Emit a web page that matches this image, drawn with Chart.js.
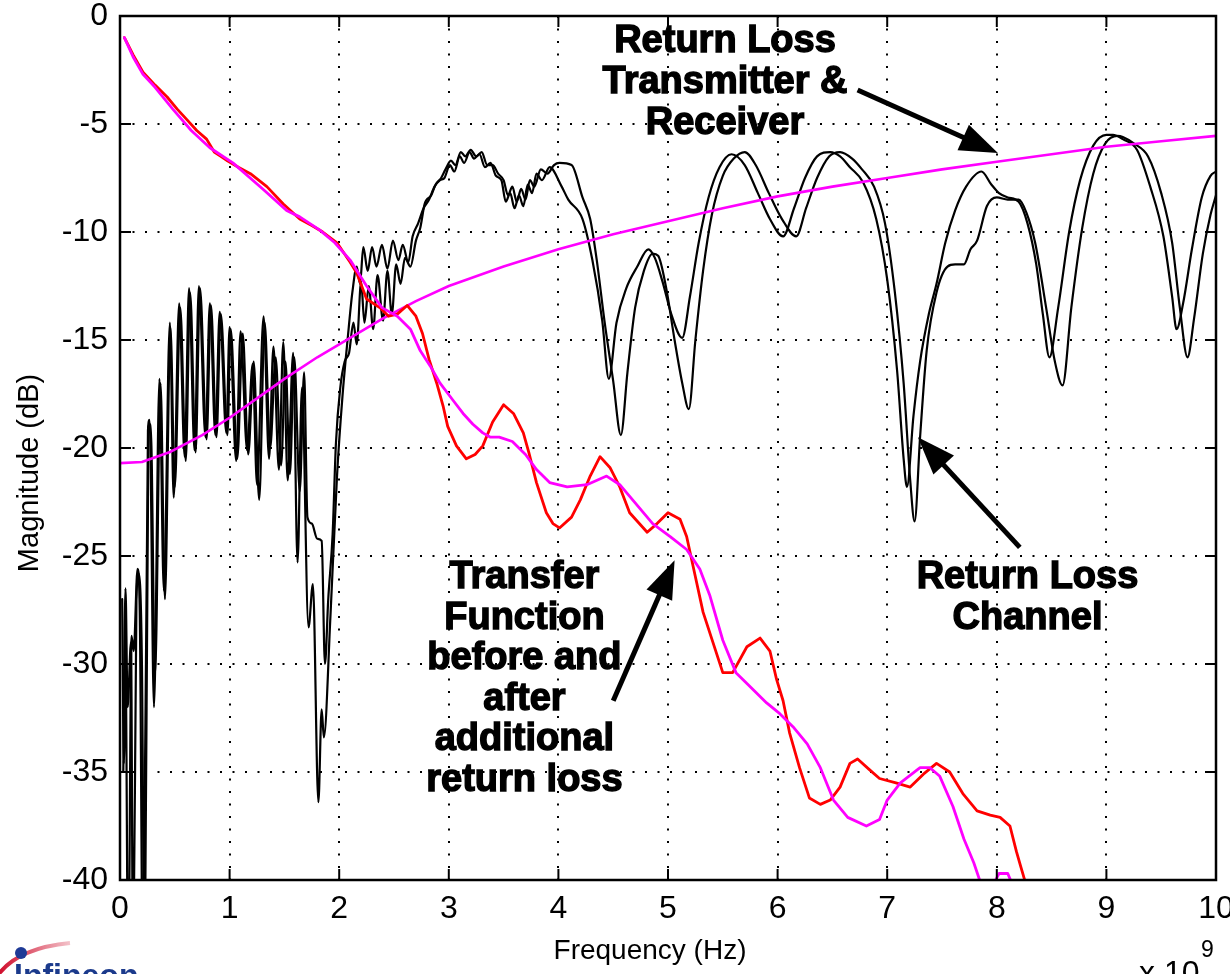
<!DOCTYPE html>
<html>
<head>
<meta charset="utf-8">
<script src="https://cdn.jsdelivr.net/npm/chart.js@4.4.1/dist/chart.umd.min.js"></script>
<style>
  html, body { margin: 0; padding: 0; background: #fff; overflow: hidden; }
  canvas { display: block; }
</style>
</head>
<body>
<canvas id="c" width="1230" height="974"></canvas>
<script>
// Axis ticks (frequency in GHz, shown with the x 10^9 multiplier; magnitude in dB)
const xTickValues = [0, 1, 2, 3, 4, 5, 6, 7, 8, 9, 10];
const yTickValues = [0, -5, -10, -15, -20, -25, -30, -35, -40];

// Transfer function before additional return loss [GHz, dB]
const tfBefore = [
  [0.04,-1.0],[0.12,-1.8],[0.21,-2.6],[0.32,-3.2],[0.43,-3.75],[0.52,-4.3],[0.61,-4.8],[0.70,-5.3],[0.79,-5.7],[0.86,-6.3],
  [0.92,-6.5],[0.98,-6.7],[1.08,-7.0],[1.19,-7.3],[1.34,-7.9],[1.49,-8.7],[1.64,-9.4],[1.75,-9.7],[1.85,-10.0],[1.98,-10.5],
  [2.10,-11.4],[2.16,-11.9],[2.25,-13.1],[2.37,-13.5],[2.45,-13.9],[2.53,-13.8],[2.62,-13.4],[2.70,-13.9],[2.76,-14.7],[2.82,-15.9],
  [2.89,-17.0],[2.95,-18.1],[2.99,-19.0],[3.07,-19.9],[3.16,-20.5],[3.24,-20.3],[3.31,-19.9],[3.40,-18.8],[3.50,-18.0],[3.59,-18.4],
  [3.68,-19.3],[3.73,-20.2],[3.80,-21.6],[3.89,-23.0],[3.95,-23.5],[4.01,-23.7],[4.12,-23.2],[4.20,-22.4],[4.29,-21.3],[4.38,-20.4],
  [4.47,-20.9],[4.56,-21.8],[4.65,-23.0],[4.81,-23.9],[4.90,-23.5],[5.00,-23.0],[5.11,-23.3],[5.17,-24.1],[5.23,-25.5],[5.32,-27.6],
  [5.41,-29.0],[5.50,-30.4],[5.59,-30.4],[5.72,-29.2],[5.84,-28.8],[5.93,-29.4],[5.99,-30.7],[6.05,-31.7],[6.11,-33.2],[6.20,-34.8],
  [6.29,-36.2],[6.39,-36.5],[6.48,-36.3],[6.57,-35.7],[6.66,-34.6],[6.73,-34.4],[6.84,-34.9],[6.93,-35.3],[7.08,-35.5],[7.21,-35.7],
  [7.33,-35.1],[7.45,-34.6],[7.57,-35.0],[7.69,-36.0],[7.82,-36.8],[7.94,-37.0],[8.03,-37.1],[8.12,-37.5],[8.18,-38.7],[8.22,-39.4],
  [8.26,-40.1],[8.30,-41.0]
];

// Transfer function after additional return loss [GHz, dB]
const tfAfter = [
  [0.04,-1.0],[0.12,-1.9],[0.21,-2.7],[0.32,-3.3],[0.48,-4.3],[0.65,-5.3],[0.82,-6.1],[1.03,-6.8],[1.30,-8.0],[1.52,-9.0],
  [1.64,-9.3],[1.82,-9.9],[1.96,-10.5],[2.10,-11.3],[2.25,-12.5],[2.39,-13.5],[2.53,-13.9],[2.65,-14.5],[2.74,-15.5],[2.83,-16.2],
  [2.92,-17.0],[3.04,-17.8],[3.13,-18.4],[3.22,-18.9],[3.31,-19.3],[3.38,-19.5],[3.46,-19.5],[3.58,-19.7],[3.70,-20.3],[3.80,-21.0],
  [3.92,-21.6],[4.08,-21.8],[4.26,-21.7],[4.44,-21.3],[4.56,-21.7],[4.71,-22.6],[4.86,-23.5],[5.02,-24.1],[5.17,-24.7],[5.29,-25.6],
  [5.38,-26.8],[5.50,-28.9],[5.62,-30.4],[5.72,-30.9],[5.90,-31.8],[6.02,-32.3],[6.14,-32.9],[6.27,-33.7],[6.39,-34.8],[6.51,-36.3],
  [6.64,-37.1],[6.81,-37.5],[6.93,-37.2],[7.00,-36.3],[7.12,-35.5],[7.30,-34.8],[7.39,-34.8],[7.48,-35.2],[7.60,-36.6],[7.70,-38.1],
  [7.79,-39.2],[7.85,-40.1],[7.90,-40.8],[7.97,-40.2],[8.02,-39.7],[8.10,-39.7],[8.15,-40.3],[8.25,-41.5]
];

// Return loss of transmitter & receiver [GHz, dB]
const rlTxRx = [
  [0.00,-20.7],[0.20,-20.65],[0.45,-20.2],[0.75,-19.4],[1.00,-18.6],[1.25,-17.7],[1.50,-16.8],[1.80,-15.8],[2.10,-14.9],[2.40,-14.0],
  [2.70,-13.2],[3.00,-12.5],[3.50,-11.6],[4.00,-10.8],[4.50,-10.1],[5.00,-9.5],[5.50,-8.9],[6.00,-8.35],[6.50,-7.9],[7.00,-7.5],
  [7.50,-7.1],[8.00,-6.75],[8.50,-6.4],[9.00,-6.05],[9.50,-5.8],[10.00,-5.55]
];

// Return loss of the channel, first measurement [GHz, dB]
const rlChannelA = [
  [0.02,-27.0],[0.035,-34.6],[0.05,-29.5],[0.075,-45],[0.105,-28.7],[0.125,-29.4],[0.16,-25.6],[0.18,-27.5],[0.21,-45],[0.255,-19.2],
  [0.27,-18.7],[0.31,-32.0],[0.36,-16.8],[0.40,-26.6],[0.455,-14.2],[0.49,-22.3],[0.54,-13.3],[0.59,-20.4],[0.63,-12.6],[0.68,-20.1],
  [0.72,-12.5],[0.78,-19.5],[0.82,-13.3],[0.87,-19.4],[0.91,-13.7],[0.97,-19.3],[1.00,-14.4],[1.06,-20.6],[1.10,-14.6],[1.16,-20.1],
  [1.21,-16.1],[1.25,-21.7],[1.31,-13.9],[1.36,-20.5],[1.40,-15.3],[1.45,-21.0],[1.49,-15.1],[1.53,-21.5],[1.58,-15.6],[1.62,-25.3],
  [1.66,-17.2],[1.72,-28.3],[1.76,-26.3],[1.81,-36.4],[1.84,-32.1],[1.86,-33.4],[1.92,-27.8],[1.98,-21.3],[2.03,-17.6],[2.08,-14.8],
  [2.12,-12.8],[2.16,-11.6],[2.19,-12.4],[2.22,-10.7],[2.26,-11.8],[2.30,-10.7],[2.34,-11.6],[2.39,-10.6],[2.44,-11.7],[2.49,-10.4],
  [2.54,-11.3],[2.58,-10.6],[2.63,-11.4],[2.67,-10.2],[2.72,-9.6],[2.77,-8.9],[2.82,-8.5],[2.87,-7.9],[2.92,-7.6],[2.96,-7.5],
  [3.01,-6.9],[3.05,-7.2],[3.10,-6.5],[3.14,-6.8],[3.19,-6.3],[3.23,-6.6],[3.28,-6.4],[3.33,-7.0],[3.38,-6.8],[3.43,-7.4],
  [3.48,-7.6],[3.52,-8.6],[3.56,-8.2],[3.60,-8.9],[3.64,-8.3],[3.68,-8.8],[3.72,-7.8],[3.76,-8.2],[3.80,-7.3],[3.85,-7.6],
  [3.92,-7.0],[4.03,-7.9],[4.09,-8.5],[4.22,-9.4],[4.31,-11.3],[4.40,-14.1],[4.46,-16.8],[4.53,-14.2],[4.62,-12.6],[4.72,-11.6],
  [4.82,-10.8],[4.88,-11.2],[4.95,-12.3],[5.03,-13.8],[5.13,-14.9],[5.20,-13.0],[5.28,-10.5],[5.37,-8.4],[5.47,-7.0],[5.58,-6.4],
  [5.70,-6.9],[5.82,-8.2],[5.93,-9.4],[6.05,-10.2],[6.15,-8.9],[6.25,-7.5],[6.36,-6.5],[6.48,-6.3],[6.57,-6.5],[6.66,-7.0],
  [6.78,-7.7],[6.90,-9.4],[7.00,-12.2],[7.09,-16.4],[7.15,-20.5],[7.18,-21.8],[7.24,-18.5],[7.30,-16.0],[7.38,-13.8],[7.45,-12.4],
  [7.53,-10.5],[7.62,-9.0],[7.72,-7.9],[7.86,-7.2],[7.95,-7.8],[8.02,-8.2],[8.10,-8.4],[8.20,-8.6],[8.28,-9.6],[8.36,-11.5],
  [8.42,-13.8],[8.48,-15.8],[8.56,-13.5],[8.66,-10.0],[8.76,-7.6],[8.88,-6.0],[9.00,-5.5],[9.06,-5.5],[9.15,-5.7],[9.28,-6.2],
  [9.40,-7.9],[9.52,-10.2],[9.60,-13.0],[9.64,-14.5],[9.70,-13.3],[9.78,-10.8],[9.87,-8.4],[9.95,-7.4],[10.00,-7.2]
];

// Return loss of the channel, second measurement [GHz, dB]
const rlChannelB = [
  [0.03,-35.0],[0.05,-26.5],[0.07,-32.0],[0.10,-29.0],[0.12,-45],[0.15,-27.0],[0.17,-25.8],[0.20,-30.0],[0.225,-45],[0.26,-19.0],
  [0.28,-18.9],[0.32,-30.5],[0.37,-17.0],[0.41,-27.0],[0.46,-14.4],[0.50,-21.8],[0.55,-13.5],[0.60,-20.6],[0.64,-12.8],[0.69,-20.2],
  [0.73,-12.6],[0.79,-19.6],[0.83,-13.4],[0.88,-19.5],[0.92,-13.8],[0.98,-19.4],[1.01,-14.5],[1.07,-20.5],[1.12,-14.7],[1.17,-20.3],
  [1.22,-16.0],[1.27,-22.4],[1.32,-14.2],[1.37,-20.0],[1.42,-15.8],[1.47,-20.8],[1.51,-16.0],[1.55,-21.2],[1.59,-15.8],[1.64,-22.0],
  [1.68,-16.5],[1.71,-23.2],[1.75,-23.5],[1.80,-24.2],[1.84,-24.3],[1.87,-30.0],[1.90,-27.0],[1.94,-24.0],[1.97,-19.8],[2.01,-17.2],
  [2.05,-16.0],[2.09,-15.6],[2.13,-14.2],[2.16,-15.2],[2.20,-12.3],[2.23,-14.2],[2.27,-12.5],[2.31,-14.5],[2.35,-12.0],[2.40,-14.1],
  [2.44,-11.8],[2.48,-13.8],[2.52,-11.5],[2.56,-12.4],[2.60,-11.2],[2.65,-11.6],[2.70,-10.4],[2.74,-9.8],[2.78,-8.7],[2.84,-8.3],
  [2.88,-7.8],[2.93,-7.5],[2.97,-7.1],[3.02,-6.7],[3.06,-6.9],[3.11,-6.3],[3.15,-6.5],[3.20,-6.2],[3.25,-6.5],[3.30,-6.3],
  [3.35,-6.9],[3.40,-6.9],[3.45,-7.3],[3.50,-7.6],[3.54,-8.3],[3.58,-7.9],[3.62,-8.6],[3.66,-8.0],[3.70,-8.5],[3.74,-7.6],
  [3.78,-7.9],[3.84,-7.1],[3.90,-7.3],[3.96,-6.9],[4.01,-6.8],[4.12,-6.9],[4.22,-8.4],[4.29,-9.4],[4.35,-11.3],[4.42,-14.1],
  [4.50,-16.9],[4.57,-19.4],[4.63,-16.5],[4.70,-13.5],[4.78,-11.8],[4.86,-11.0],[4.91,-11.1],[4.98,-12.5],[5.06,-15.0],[5.13,-17.0],
  [5.19,-18.2],[5.25,-15.0],[5.32,-11.8],[5.40,-9.2],[5.50,-7.4],[5.60,-6.6],[5.70,-6.3],[5.80,-6.9],[5.92,-8.2],[6.04,-9.4],
  [6.17,-10.2],[6.26,-8.9],[6.36,-7.5],[6.47,-6.5],[6.57,-6.3],[6.68,-6.6],[6.77,-7.1],[6.88,-7.9],[6.98,-9.6],[7.07,-12.8],
  [7.15,-17.0],[7.21,-21.5],[7.25,-23.4],[7.30,-19.5],[7.36,-15.5],[7.45,-12.8],[7.55,-11.6],[7.62,-11.5],[7.70,-11.5],[7.76,-10.8],
  [7.82,-10.4],[7.91,-8.8],[8.00,-8.4],[8.10,-8.5],[8.20,-8.5],[8.27,-9.1],[8.35,-10.5],[8.45,-13.5],[8.53,-16.0],[8.60,-17.1],
  [8.68,-13.5],[8.78,-9.8],[8.88,-7.3],[8.99,-5.9],[9.10,-5.55],[9.15,-5.6],[9.25,-5.9],[9.38,-6.5],[9.50,-8.2],[9.60,-10.5],
  [9.67,-13.5],[9.74,-15.8],[9.80,-14.0],[9.88,-11.0],[9.95,-9.2],[10.00,-8.3]
];

// Callout texts (anchor = centre of first line, in GHz / dB) and their arrows
const callouts = [
  { lines: ['Return Loss', 'Transmitter &', 'Receiver'], at: [5.52, -1.2] },
  { lines: ['Return Loss', 'Channel'], at: [8.28, -26.0] },
  { lines: ['Transfer', 'Function', 'before and', 'after', 'additional', 'return loss'], at: [3.69, -26.0] }
];
const arrows = [
  { from: [6.73, -3.43], to: [8.01, -6.34] },
  { from: [8.21, -24.6], to: [7.28, -19.5] },
  { from: [4.50, -31.7], to: [5.06, -25.2] }
];

const FONT = "'Liberation Sans', Arial, Helvetica, sans-serif";
const toXY = arr => arr.map(p => ({ x: p[0], y: p[1] }));

function series(label, data, color, width, smooth) {
  return {
    label, data: toXY(data),
    borderColor: color, borderWidth: width,
    pointRadius: 0, fill: false, clip: 0,
    tension: 0, cubicInterpolationMode: smooth ? 'monotone' : 'default',
    borderJoinStyle: 'round', borderCapStyle: 'round'
  };
}

const decor = {
  id: 'decor',
  afterDatasetsDraw(chart) {
    const { ctx, chartArea: a, scales: { x, y } } = chart;
    ctx.save();
    const seg = (x0, y0, x1, y1) => { ctx.beginPath(); ctx.moveTo(x0, y0); ctx.lineTo(x1, y1); ctx.stroke(); };

    // inward tick marks on all four sides
    ctx.strokeStyle = '#000';
    ctx.lineWidth = 2;
    const TL = 11;
    xTickValues.forEach(v => {
      const px = x.getPixelForValue(v);
      seg(px, a.bottom, px, a.bottom - TL);
      seg(px, a.top, px, a.top + TL);
    });
    yTickValues.forEach(v => {
      const py = y.getPixelForValue(v);
      seg(a.left, py, a.left + TL, py);
      seg(a.right, py, a.right - TL, py);
    });

    // box frame
    ctx.lineWidth = 2.5;
    ctx.strokeRect(a.left, a.top, a.right - a.left, a.bottom - a.top);

    // callout texts
    ctx.fillStyle = '#000';
    ctx.strokeStyle = '#000';
    ctx.lineWidth = 1.4;
    ctx.font = 'bold 38px ' + FONT;
    ctx.textAlign = 'center';
    ctx.textBaseline = 'middle';
    callouts.forEach(c => {
      const cx = x.getPixelForValue(c.at[0]);
      const cy = y.getPixelForValue(c.at[1]);
      c.lines.forEach((t, i) => {
        ctx.fillText(t, cx, cy + i * 40.6);
        ctx.strokeText(t, cx, cy + i * 40.6);
      });
    });

    // arrows
    arrows.forEach(ar => {
      const x0 = x.getPixelForValue(ar.from[0]), y0 = y.getPixelForValue(ar.from[1]);
      const x1 = x.getPixelForValue(ar.to[0]), y1 = y.getPixelForValue(ar.to[1]);
      const ang = Math.atan2(y1 - y0, x1 - x0);
      const head = 38, half = 14;
      const bx = x1 - Math.cos(ang) * head, by = y1 - Math.sin(ang) * head;
      ctx.lineWidth = 5;
      ctx.lineCap = 'butt';
      seg(x0, y0, bx + Math.cos(ang) * 4, by + Math.sin(ang) * 4);
      ctx.beginPath();
      ctx.moveTo(x1, y1);
      ctx.lineTo(bx + Math.sin(ang) * half, by - Math.cos(ang) * half);
      ctx.lineTo(bx - Math.sin(ang) * half, by + Math.cos(ang) * half);
      ctx.closePath();
      ctx.fill();
    });
    ctx.restore();
  },
  afterDraw(chart) {
    const { ctx } = chart;
    ctx.save();
    ctx.fillStyle = '#000';
    // axis titles
    ctx.font = '28px ' + FONT;
    ctx.textAlign = 'center';
    ctx.textBaseline = 'middle';
    ctx.fillText('Frequency (Hz)', 650, 951);
    ctx.save();
    ctx.translate(30, 473);
    ctx.rotate(-Math.PI / 2);
    ctx.font = '29px ' + FONT;
    ctx.fillText('Magnitude (dB)', 0, 0);
    ctx.restore();
    // exponent of the frequency axis
    ctx.textAlign = 'left';
    ctx.textBaseline = 'alphabetic';
    ctx.font = '32px ' + FONT;
    ctx.fillText('x 10', 1139, 983);
    ctx.font = '23px ' + FONT;
    ctx.fillText('9', 1201, 957);

    // company mark in the lower-left corner
    const grad = ctx.createLinearGradient(0, 0, 70, 0);
    grad.addColorStop(0, '#d0102e');
    grad.addColorStop(1, 'rgba(208,16,46,0.25)');
    ctx.strokeStyle = grad;
    ctx.lineWidth = 4;
    ctx.beginPath();
    ctx.moveTo(-2, 975);
    ctx.quadraticCurveTo(18, 948, 70, 943);
    ctx.stroke();
    ctx.fillStyle = '#1e3a96';
    ctx.beginPath();
    ctx.arc(21, 953, 6, 0, Math.PI * 2);
    ctx.fill();
    ctx.font = 'bold 32px ' + FONT;
    ctx.fillStyle = '#1b3a8c';
    ctx.fillText('Infineon', 14, 986);
    ctx.restore();
  }
};

Chart.defaults.font.family = FONT;
Chart.defaults.color = '#000';

new Chart(document.getElementById('c'), {
  type: 'line',
  data: {
    datasets: [
      series('Transfer function after additional return loss', tfAfter, '#ff00ff', 2.8, false),
      series('Transfer function', tfBefore, '#ff0000', 2.8, false),
      series('Return loss transmitter & receiver', rlTxRx, '#ff00ff', 2.6, false),
      series('Return loss channel', rlChannelA, '#000000', 2.2, true),
      series('Return loss channel (2)', rlChannelB, '#000000', 2.2, true)
    ]
  },
  options: {
    responsive: false,
    animation: false,
    events: [],
    layout: { autoPadding: false, padding: { left: 0, top: 16, right: 14, bottom: 0 } },
    plugins: { legend: { display: false }, tooltip: { enabled: false }, title: { display: false } },
    scales: {
      x: {
        type: 'linear', min: 0, max: 10,
        afterBuildTicks: s => { s.ticks = xTickValues.map(v => ({ value: v })); },
        afterFit: s => { s.height = 94; s.paddingLeft = 0; s.paddingRight = 0; },
        ticks: { font: { size: 32 }, padding: 10, maxRotation: 0, autoSkip: false, callback: v => String(v) },
        grid: { color: '#000', lineWidth: 2, drawTicks: false, borderDash: [2, 10.5] },
        border: { display: false, dash: [2, 10.5] }
      },
      y: {
        type: 'linear', min: -40, max: 0,
        afterBuildTicks: s => { s.ticks = yTickValues.map(v => ({ value: v })); },
        afterFit: s => { s.width = 120; s.paddingTop = 0; s.paddingBottom = 0; },
        ticks: { font: { size: 32 }, padding: 12, autoSkip: false, callback: v => String(v) },
        grid: { color: '#000', lineWidth: 2, drawTicks: false, borderDash: [2, 10.5] },
        border: { display: false, dash: [2, 10.5] }
      }
    }
  },
  plugins: [decor]
});
</script>
</body>
</html>
